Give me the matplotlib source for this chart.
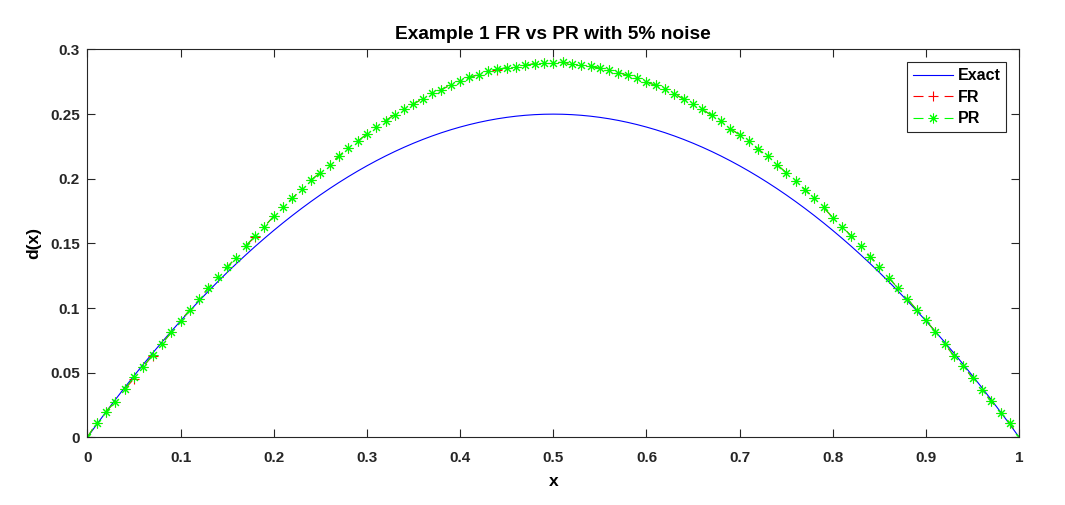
"""Example 1: exact d(x) against FR and PR reconstructions with 5% noise."""

import matplotlib
matplotlib.use("Agg")
import matplotlib.pyplot as plt
import numpy as np
from matplotlib.ticker import FuncFormatter


plt.rcParams["font.family"] = ["Liberation Sans", "DejaVu Sans"]
plt.rcParams["font.weight"] = "bold"
plt.rcParams["axes.labelweight"] = "bold"
plt.rcParams["axes.titleweight"] = "bold"


# grid x = 0, 0.01, ..., 1
x_vals = [round(0.01 * i, 2) for i in range(101)]

exact_vals = [
	0.0, 0.0099, 0.0196, 0.0291, 0.0384, 0.0475, 0.0564, 0.0651, 0.0736, 0.0819,
	0.0900, 0.0979, 0.1056, 0.1131, 0.1204, 0.1275, 0.1344, 0.1411, 0.1476, 0.1539,
	0.1600, 0.1659, 0.1716, 0.1771, 0.1824, 0.1875, 0.1924, 0.1971, 0.2016, 0.2059,
	0.2100, 0.2139, 0.2176, 0.2211, 0.2244, 0.2275, 0.2304, 0.2331, 0.2356, 0.2379,
	0.2400, 0.2419, 0.2436, 0.2451, 0.2464, 0.2475, 0.2484, 0.2491, 0.2496, 0.2499,
	0.2500,
	0.2499, 0.2496, 0.2491, 0.2484, 0.2475, 0.2464, 0.2451, 0.2436, 0.2419, 0.2400,
	0.2379, 0.2356, 0.2331, 0.2304, 0.2275, 0.2244, 0.2211, 0.2176, 0.2139, 0.2100,
	0.2059, 0.2016, 0.1971, 0.1924, 0.1875, 0.1824, 0.1771, 0.1716, 0.1659, 0.1600,
	0.1539, 0.1476, 0.1411, 0.1344, 0.1275, 0.1204, 0.1131, 0.1056, 0.0979, 0.0900,
	0.0819, 0.0736, 0.0651, 0.0564, 0.0475, 0.0384, 0.0291, 0.0196, 0.0099, 0.0,
]

pr_vals = [
	0.0, 0.0113, 0.0199, 0.0276, 0.0372, 0.0465, 0.0547, 0.0638, 0.0723, 0.0811,
	0.0900, 0.0987, 0.1070, 0.1155, 0.1240, 0.1318, 0.1390, 0.1480, 0.1560, 0.1630,
	0.1710, 0.1780, 0.1850, 0.1920, 0.1990, 0.2047, 0.2110, 0.2175, 0.2240, 0.2290,
	0.2346, 0.2398, 0.2450, 0.2496, 0.2537, 0.2578, 0.2620, 0.2660, 0.2690, 0.2726,
	0.2760, 0.2785, 0.2806, 0.2830, 0.2847, 0.2860, 0.2868, 0.2878, 0.2890, 0.2899,
	0.2899, 0.2900, 0.2890, 0.2880, 0.2870, 0.2854, 0.2838, 0.2822, 0.2800, 0.2778,
	0.2746, 0.2724, 0.2694, 0.2658, 0.2615, 0.2578, 0.2537, 0.2490, 0.2444, 0.2388,
	0.2340, 0.2290, 0.2227, 0.2175, 0.2110, 0.2047, 0.1980, 0.1917, 0.1850, 0.1778,
	0.1700, 0.1630, 0.1555, 0.1480, 0.1398, 0.1320, 0.1234, 0.1153, 0.1070, 0.0987,
	0.0904, 0.0816, 0.0723, 0.0630, 0.0553, 0.0457, 0.0367, 0.0279, 0.0190, 0.0108,
	0.0,
]

# FR nearly coincides with PR; it only peeks out at a few points
fr_vals = [
	0.0, 0.0113, 0.0199, 0.0276, 0.0372, 0.0452, 0.0547, 0.0632, 0.0723, 0.0811,
	0.0900, 0.0987, 0.1070, 0.1155, 0.1240, 0.1318, 0.1390, 0.1480, 0.1552, 0.1630,
	0.1710, 0.1780, 0.1850, 0.1920, 0.1990, 0.2047, 0.2110, 0.2175, 0.2240, 0.2290,
	0.2346, 0.2398, 0.2450, 0.2496, 0.2537, 0.2578, 0.2620, 0.2660, 0.2690, 0.2726,
	0.2760, 0.2785, 0.2806, 0.2830, 0.2840, 0.2860, 0.2868, 0.2878, 0.2890, 0.2899,
	0.2899, 0.2900, 0.2890, 0.2880, 0.2870, 0.2854, 0.2838, 0.2822, 0.2800, 0.2778,
	0.2746, 0.2724, 0.2694, 0.2658, 0.2615, 0.2578, 0.2537, 0.2490, 0.2444, 0.2388,
	0.2340, 0.2290, 0.2227, 0.2175, 0.2110, 0.2047, 0.1980, 0.1917, 0.1850, 0.1778,
	0.1700, 0.1630, 0.1555, 0.1480, 0.1398, 0.1320, 0.1234, 0.1153, 0.1070, 0.0987,
	0.0904, 0.0816, 0.0723, 0.0630, 0.0553, 0.0457, 0.0367, 0.0279, 0.0190, 0.0108,
	0.0,
]

x_ticks = [0, 0.1, 0.2, 0.3, 0.4, 0.5, 0.6, 0.7, 0.8, 0.9, 1]
y_ticks = [0, 0.05, 0.1, 0.15, 0.2, 0.25, 0.3]


def main():
	fig = plt.figure(figsize=(10.65, 5.05), dpi=100)
	ax = fig.add_axes([0.082, 0.134, 0.875, 0.768])

	asterisk = (8, 2, 0)
	dash = (0, (9, 19))
	ax.plot(x_vals, exact_vals, color="#0000FF", lw=0.8, label="Exact")
	ax.plot(x_vals, fr_vals, color="#FF0000", lw=0.8, ls=dash,
		marker="+", ms=7, mew=0.8, label="FR")
	ax.plot(x_vals, pr_vals, color="#00FF00", lw=0.8, ls=dash,
		marker=asterisk, ms=7, mew=0.75, label="PR")

	ax.set_xlim(0, 1)
	ax.set_ylim(0, 0.3)
	ax.set_xticks(x_ticks)
	ax.set_yticks(y_ticks)
	fmt = FuncFormatter(lambda v, pos: f"{v:g}")
	ax.xaxis.set_major_formatter(fmt)
	ax.yaxis.set_major_formatter(fmt)
	ax.tick_params(direction="in", length=5.5, width=0.8, top=True, right=True,
		labelsize=11, colors="#262626", labelcolor="#262626")
	ax.tick_params(axis="x", pad=9.5)
	ax.tick_params(axis="y", pad=5.5)
	for spine in ax.spines.values():
		spine.set_linewidth(0.8)
		spine.set_color("#262626")

	ax.set_title("Example 1 FR vs PR with 5% noise", fontsize=13.8, pad=7.5)
	ax.set_xlabel("x", fontsize=12.5, labelpad=7)
	ax.set_ylabel("d(x)", fontsize=12.5, labelpad=6)

	leg = ax.legend(loc="upper right", fontsize=11.5, handlelength=2.5,
		numpoints=1, fancybox=False, edgecolor="#262626", framealpha=1,
		borderpad=0.38, labelspacing=0.4, handletextpad=0.3, borderaxespad=0,
		bbox_to_anchor=(0.9863, 0.967))
	leg.get_frame().set_linewidth(0.8)

	fig.savefig("out.png", dpi=100, facecolor="white")
	plt.close(fig)


if __name__ == "__main__":
	main()
